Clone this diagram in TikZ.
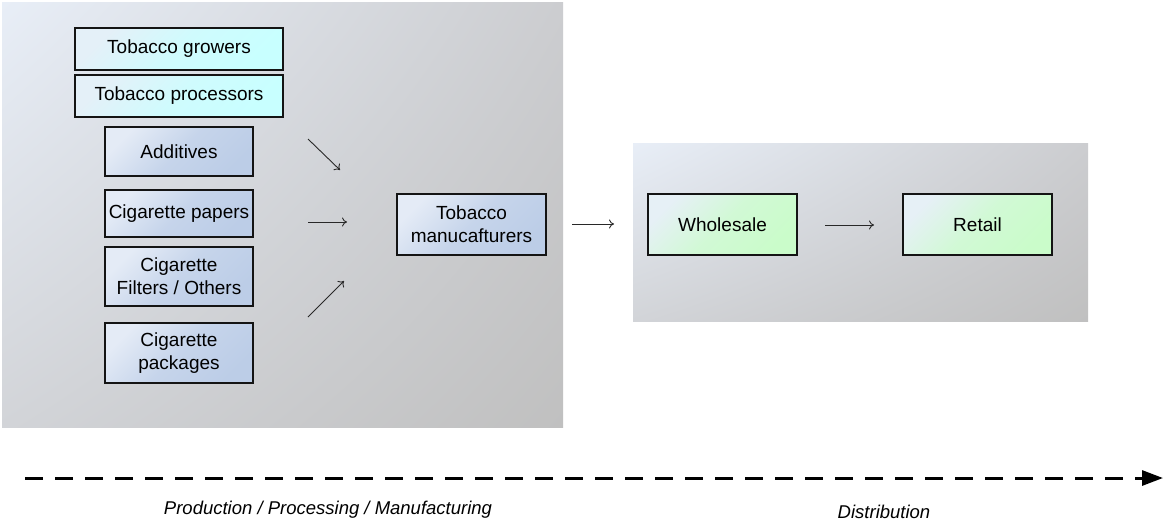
\documentclass[tikz,border=0pt]{standalone}
\usepackage{fontspec}
\setmainfont{Liberation Sans}
\usetikzlibrary{arrows.meta,shadings}
\definecolor{panelTL}{RGB}{232,238,247}
\definecolor{panelTR}{RGB}{204,205,208}
\definecolor{panelBL}{RGB}{210,212,216}
\definecolor{panelBR}{RGB}{192,192,192}
\definecolor{cyanA}{RGB}{228,240,248}
\definecolor{cyanB}{RGB}{200,255,255}
\definecolor{blueA}{RGB}{228,235,246}
\definecolor{blueB}{RGB}{188,205,231}
\definecolor{greenA}{RGB}{230,240,246}
\definecolor{greenB}{RGB}{202,252,202}
\definecolor{arrowgray}{RGB}{40,40,40}
\definecolor{border}{RGB}{20,20,20}
\tikzset{
  boxbase/.style={draw=border, line width=2.6pt, inner sep=0pt, align=center,
    font=\fontsize{19}{23}\selectfont},
  cyanbox/.style={boxbase, top color=cyanA, bottom color=cyanB, middle color=cyanB!75!cyanA, shading angle=45},
  bluebox/.style={boxbase, top color=blueA, bottom color=blueB, middle color=blueB!75!blueA, shading angle=45},
  greenbox/.style={boxbase, top color=greenA, bottom color=greenB, middle color=greenB!75!greenA, shading angle=45},
  flow/.style={draw=arrowgray, line width=0.9pt, -{To[length=5pt,width=9pt]}},
  caption/.style={font=\fontsize{18.5}{22}\selectfont\itshape, inner sep=0pt}
}
\begin{document}
\begin{tikzpicture}[x=1pt,y=-1pt]
\useasboundingbox (0,0) rectangle (1164,523);
\fill[white] (0,0) rectangle (1164,523);
% panels
\shade[upper left=panelTL, upper right=panelTR, lower left=panelBL, lower right=panelBR]
  (2,2) rectangle (563,427);
\shade[upper left=panelTL, upper right=panelTR, lower left=panelBL, lower right=panelBR]
  (633,143) rectangle (1088,321);
% boxes
\node[cyanbox, minimum width=208pt, minimum height=42pt] (grow) at (179,49) {Tobacco growers};
\node[cyanbox, minimum width=208pt, minimum height=42pt] (proc) at (179,96) {Tobacco processors};
\node[bluebox, minimum width=148pt, minimum height=49pt] (add) at (179,151.5) {Additives};
\node[bluebox, minimum width=148pt, minimum height=47pt] (pap) at (179,213.5) {Cigarette papers};
\node[bluebox, minimum width=148pt, minimum height=59pt] (filt) at (179,276.5) {Cigarette\\Filters / Others};
\node[bluebox, minimum width=148pt, minimum height=60pt] (pack) at (179,353) {Cigarette\\packages};
\node[bluebox, minimum width=149pt, minimum height=61pt] (manu) at (471.5,224.5) {Tobacco\\manucafturers};
\node[greenbox, minimum width=149pt, minimum height=61pt] (whole) at (722.5,224.5) {Wholesale};
\node[greenbox, minimum width=149pt, minimum height=61pt] (ret) at (977.5,224.5) {Retail};
% free arrows
\coordinate (a1s) at (308,139); \coordinate (a1e) at (340,170);
\coordinate (a2s) at (308,222); \coordinate (a2e) at (347,222);
\coordinate (a3s) at (308,317); \coordinate (a3e) at (344,281);
\coordinate (a4s) at (572,224); \coordinate (a4e) at (614,224);
\coordinate (a5s) at (825,225); \coordinate (a5e) at (874,225);
\draw[flow] (a1s) -- (a1e);
\draw[flow] (a2s) -- (a2e);
\draw[flow] (a3s) -- (a3e);
\draw[flow] (a4s) -- (a4e);
\draw[flow] (a5s) -- (a5e);
% timeline
\coordinate (ts) at (25,478); \coordinate (te) at (1163,478);
\draw[line width=3pt, dash pattern=on 18pt off 12pt, -{Triangle[length=21pt,width=15pt]}] (ts) -- (te);
\node[caption] (prod) at (328,510) {Production / Processing / Manufacturing};
\node[caption] (dist) at (884,512) {Distribution};
\end{tikzpicture}
\end{document}
